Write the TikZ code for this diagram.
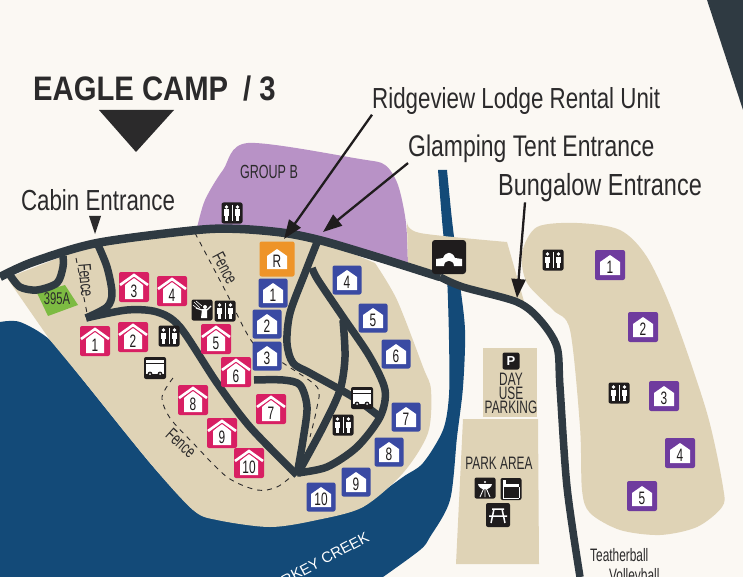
\documentclass[tikz,border=0pt]{standalone}
\usepackage{fontspec}
\setmainfont{Liberation Sans}
\newfontfamily\mapfont[FakeStretch=0.77]{Liberation Sans}
\newfontfamily\numfont[FakeStretch=0.66]{Liberation Sans}
\newfontfamily\titlefont[FakeStretch=0.86]{Liberation Sans}
\usetikzlibrary{arrows.meta}

\definecolor{paper}{HTML}{FBF8F3}
\definecolor{sand}{HTML}{DFD3B6}
\definecolor{creek}{HTML}{134A78}
\definecolor{road}{HTML}{2F3A42}
\definecolor{groupb}{HTML}{B892C6}
\definecolor{cabin}{HTML}{D81F63}
\definecolor{tent}{HTML}{3A4AA3}
\definecolor{bungalow}{HTML}{6F3B9E}
\definecolor{lodge}{HTML}{EE9428}
\definecolor{site}{HTML}{7DBB42}
\definecolor{ink}{HTML}{2B2A2B}
\definecolor{iconblack}{HTML}{1F1C1D}

\tikzset{
  mainroad/.style={draw=road, line width=8.5pt, line cap=butt, line join=round},
  sideroad/.style={draw=road, line width=7.5pt, line cap=butt, line join=round},
  fenceline/.style={draw=ink, line width=0.9pt, dash pattern=on 5pt off 5pt},
  pointer/.style={draw=iconblack, line width=2.3pt, -{Triangle[length=19pt,width=14pt]}},
  maplabel/.style={font=\mapfont\fontsize{29}{29}\selectfont, text=ink, inner sep=0pt},
  smalllabel/.style={font=\numfont\fontsize{18}{18}\selectfont, text=ink, inner sep=0pt},
  fencelabel/.style={font=\numfont\fontsize{18}{18}\selectfont, text=ink, inner sep=0pt},
  pinbox/.style={rounded corners=2pt, minimum size=#1, inner sep=0pt},
  iconbox/.style={fill=iconblack, rounded corners=2pt, inner sep=0pt},
  pinnumber/.style={font=\numfont\fontsize{18}{18}\selectfont, text=iconblack, inner sep=0pt}
}

% cabin with a roof
\newcommand{\cabinpin}[3]{
  \node[pinbox=30pt, fill=cabin] (cabin#1) at (#2,#3) {};
  \begin{scope}[shift={(#2,#3)}]
    \fill[white] (-9,-2) -- (0,-10) -- (9,-2) -- (9,12) -- (-9,12) -- cycle;
    \draw[cabin, line width=1.6pt] (-14,0) -- (0,-10) -- (14,0);
    \draw[white, line width=2.6pt] (-14,-2) -- (0,-12) -- (14,-2);
    \node[pinnumber] at (0,4) {#1};
  \end{scope}
}
% tent or bungalow
\newcommand{\tentpin}[5]{
  \node[pinbox=#5, fill=#4] (#4#1) at (#2,#3) {};
  \begin{scope}[shift={(#2,#3)}]
    \fill[white] (-10,-3) -- (0,-10) -- (10,-3) -- (10,10) -- (-10,10) -- cycle;
    \node[pinnumber] at (0,2) {#1};
  \end{scope}
}
% restroom
\newcommand{\restroom}[3]{
  \node[iconbox, minimum width=21pt, minimum height=21pt] (#1) at (#2,#3) {};
  \begin{scope}[shift={(#2,#3)}]
    \foreach \side in {-5.5,5.5} {
      \fill[white] (\side,-6) circle (1.8);
      \fill[white] (\side-2.8,-3.5) rectangle (\side+2.8,3);
      \fill[white] (\side-1.8,3) rectangle (\side+1.8,8);
    }
    \draw[white, line width=0.7pt] (0,-8) -- (0,8);
  \end{scope}
}
% tram
\newcommand{\tram}[3]{
  \node[iconbox, minimum width=22pt, minimum height=22pt] (#1) at (#2,#3) {};
  \begin{scope}[shift={(#2,#3)}]
    \fill[white] (-9,-8) rectangle (9,6);
    \draw[iconblack, line width=0.8pt] (-9,-5) -- (9,-5);
    \fill[iconblack] (-5,6) circle (2.4);
    \fill[iconblack] (5,6) circle (2.4);
    \fill[white] (-5,6) circle (1);
    \fill[white] (5,6) circle (1);
  \end{scope}
}

\begin{document}
\begin{tikzpicture}[x=1pt, y=-1pt]
\useasboundingbox (0,0) rectangle (743,577);
\clip (0,0) rectangle (743,577);
\fill[paper] (0,0) rectangle (743,577);

% corner
\fill[road] (707,0) -- (743,0) -- (743,110) -- cycle;

% creek
\fill[creek] plot[smooth] coordinates {(0,322) (20,322) (50,340) (83,380) (150,463) (193,510)}
  -- (270,527) -- (363,507) -- plot[smooth] coordinates {(367,503) (403,477) (423,463) (443,430) (449,395) (449,340) (447,277) (442,220) (438,170)}
  -- plot[smooth] coordinates {(447,170) (452,220) (459,277) (465,330) (463,387) (457,437) (450,500) (430,537) (420,550) (383,577)}
  -- (0,577) -- cycle;

% sand
\fill[groupb] plot[smooth] coordinates {(197,228) (205,200) (223,170) (248,143) (360,159) (385,165) (398,185) (406,223) (408,268)} -- (320,240) -- cycle;
\fill[sand] plot[smooth] coordinates {(407,222) (420,233) (507,242)} -- (525,305) -- (450,285) -- (408,268) -- cycle;
\fill[sand] (7,278) -- (50,340) -- plot[smooth] coordinates {(50,340) (83,380) (150,463) (193,510) (217,520) (270,527) (317,520) (363,507) (403,473) (428,433) (431,390) (423,367) (397,300) (375,263)} -- (315,238) -- (240,229) -- (190,230) -- (97,243) -- cycle;
\fill[sand] plot[smooth cycle] coordinates {(537,227) (577,223) (620,230) (647,257) (673,313) (707,413) (723,487) (722,507) (697,527) (660,535) (620,530) (590,513) (582,490) (580,427) (570,330) (553,310) (527,283) (522,253)};
\fill[sand] (483,348) rectangle (537,417);
\fill[sand] (463,419) -- (538,419) -- (539,564) -- (456,564) -- cycle;
\fill[site] (37,293) -- (65,285) -- (78,305) -- (48,316) -- cycle;

% fences
\draw[fenceline] (76,258) -- (88,318);
\draw[fenceline] plot[smooth] coordinates {(195,233) (225,290) (253,343) (283,363) (317,387) (317,407) (310,437)};
\draw[fenceline] plot[smooth] coordinates {(173,378) (162,397) (170,418) (193,443) (227,477) (257,490) (277,487) (293,475)};

% roads
\draw[sideroad] plot[smooth] coordinates {(10,275) (20,287) (37,290) (57,283) (63,267) (63,256)};
\draw[sideroad] plot[smooth] coordinates {(98,245) (107,267) (112,293) (107,307) (86,318)};
\draw[sideroad] plot[smooth] coordinates {(86,318) (127,310) (157,312) (180,327) (217,383) (250,427) (297,475)};
\draw[sideroad] plot[smooth] coordinates {(254,380) (283,380) (300,385) (307,407) (303,440) (297,475)};
\draw[sideroad] plot[smooth] coordinates {(297,475) (323,427) (340,390) (345,357) (343,320)};
\draw[sideroad] plot[smooth] coordinates {(297,473) (327,467) (357,447) (380,417) (385,390) (370,357) (343,317) (318,280) (312,268)};
\draw[sideroad] plot[smooth] coordinates {(318,240) (305,273) (290,313) (287,343) (293,363) (310,373) (353,397) (380,417)};
\draw[mainroad] plot[smooth] coordinates {(0,277) (33,262) (97,243) (197,230) (240,229) (285,233) (323,241) (380,258) (440,277)};
\draw[draw=road, line width=7.5pt] plot[smooth] coordinates {(440,277) (463,287) (517,302) (540,320) (557,347) (560,387) (567,487) (580,577)};

% cabins
\cabinpin{1}{95}{341}
\cabinpin{2}{133}{337}
\cabinpin{3}{134}{287}
\cabinpin{4}{172}{291}
\cabinpin{5}{216}{339}
\cabinpin{6}{236}{372}
\cabinpin{7}{271}{409}
\cabinpin{8}{193}{400}
\cabinpin{9}{222}{433}
\cabinpin{10}{249}{463}

% tents
\tentpin{1}{273}{293}{tent}{29pt}
\tentpin{2}{267}{324}{tent}{29pt}
\tentpin{3}{267}{356}{tent}{29pt}
\tentpin{4}{347}{280}{tent}{29pt}
\tentpin{5}{373}{318}{tent}{29pt}
\tentpin{6}{396}{354}{tent}{29pt}
\tentpin{7}{406}{417}{tent}{29pt}
\tentpin{8}{389}{452}{tent}{29pt}
\tentpin{9}{356}{482}{tent}{29pt}
\tentpin{10}{321}{497}{tent}{29pt}
\tentpin{R}{277}{259}{lodge}{35pt}

% bungalows
\tentpin{1}{610}{265}{bungalow}{30pt}
\tentpin{2}{643}{327}{bungalow}{30pt}
\tentpin{3}{664}{396}{bungalow}{30pt}
\tentpin{4}{680}{453}{bungalow}{30pt}
\tentpin{5}{642}{496}{bungalow}{30pt}

% icons
\restroom{wcgroup}{232}{213}
\restroom{wccabin}{169}{336}
\restroom{wcfence}{225}{311}
\restroom{wctent}{343}{425}
\restroom{wcbung}{553}{260}
\restroom{wcbungb}{619}{393}
\tram{tramcabin}{155}{368}
\tram{tramtent}{362}{398}

\node[iconbox, minimum size=21pt] (shower) at (202,310) {};
\begin{scope}[shift={(202,310)}]
  \fill[white] (3,-3) circle (2);
  \fill[white] (-1,8) -- (0,-1) -- (5,-1) -- (5,8) -- cycle;
  \draw[white, line width=1.2pt] (0,0) -- (-6,-2);
  \draw[white, line width=1.2pt] (5,0) -- (9,-4);
  \draw[white, line width=0.6pt] (-8,-8) -- (-2,-2) (-6,-9) -- (0,-4) (-9,-5) -- (-4,-1);
\end{scope}

\node[iconbox, minimum size=34pt, rounded corners=3pt] (bridge) at (449,257) {};
\fill[white] (436,266) -- (436,259) -- (443,258) .. controls (446,251) and (452,251) .. (455,258) -- (462,259) -- (462,266) -- (454,266) .. controls (454,259) and (444,259) .. (444,266) -- cycle;

\node[iconbox, minimum size=17pt] (parking) at (511,361) {};
\node[font=\fontsize{13}{13}\selectfont\bfseries, text=white, inner sep=0pt] (parkingp) at (511,361) {P};

\node[iconbox, minimum size=21pt] (grill) at (485,488) {};
\begin{scope}[shift={(485,488)}]
  \fill[white] (-7,-4) -- (7,-4) .. controls (6,3) and (-6,3) .. (-7,-4) -- cycle;
  \fill[white] (0,-6) circle (1.2);
  \draw[white, line width=0.9pt] (-1.5,1) -- (-5,9) (1.5,1) -- (5,9) (0,1) -- (0,9);
\end{scope}
\node[iconbox, minimum width=21pt, minimum height=22pt] (firepit) at (511,489) {};
\begin{scope}[shift={(511,489)}]
  \fill[white] (-8,-5) rectangle (8,-2);
  \fill[white] (-8,-9) rectangle (-5,-5);
  \draw[white, line width=0.8pt] (-8,-2) -- (-8,9) (8,-2) -- (8,9) (-8,9) -- (8,9);
\end{scope}
\node[iconbox, minimum size=24pt] (picnic) at (498,515) {};
\begin{scope}[shift={(498,515)}]
  \draw[white, line width=1.5pt] (-6,-6) -- (6,-6) (-9,1) -- (9,1) (-4,-6) -- (-7,8) (4,-6) -- (7,8);
\end{scope}

% labels
\node[font=\titlefont\fontsize{34}{34}\selectfont\bfseries, text=ink, anchor=west, inner sep=0pt] (camptitle) at (33,89) {EAGLE CAMP\hspace{15pt}/ 3};
\fill[ink] (99,110) -- (174,110) -- (136,152) -- cycle;
\node[maplabel] (cabinlabel) at (98,200) {Cabin Entrance};
\fill[ink] (89,216) -- (101,216) -- (95,234) -- cycle;
\node[maplabel, anchor=west] (ridgelabel) at (372,101) {Ridgeview Lodge Rental Unit};
\node[maplabel, anchor=west, font=\mapfont\fontsize{29.8}{30}\selectfont] (glamplabel) at (408,149) {Glamping Tent Entrance};
\node[maplabel, anchor=west, font=\mapfont\fontsize{30.5}{31}\selectfont] (bunglabel) at (498,188) {Bungalow Entrance};

\coordinate (ridgetip) at (284,239);
\coordinate (glamptip) at (323,232);
\coordinate (bungtip) at (517,298);
\draw[pointer] (ridgelabel.south west) -- (ridgetip);
\draw[pointer] (glamplabel.south west) -- (glamptip);
\draw[pointer] ([xshift=27pt]bunglabel.south west) -- (bungtip);

\node[font=\numfont\fontsize{19}{19}\selectfont, text=ink, inner sep=0pt] (groupblabel) at (269,172) {GROUP B};
\node[font=\numfont\fontsize{17}{17}\selectfont, text=ink, inner sep=0pt] (sitelabel) at (57,299) {395A};
\node[fencelabel, rotate=-85] (fencea) at (86,280) {Fence};
\node[fencelabel, rotate=-62] (fenceb) at (225,268) {Fence};
\node[fencelabel, rotate=-42] (fencec) at (181,443) {Fence};
\node[smalllabel, align=center, font=\numfont\fontsize{18}{14}\selectfont] (daylabel) at (511,393) {DAY\\USE\\PARKING};
\node[smalllabel] (parklabel) at (499,463) {PARK AREA};
\node[font=\fontsize{15}{15}\selectfont, text=white, inner sep=0pt, rotate=28, anchor=east] (creeklabel) at (368,536) {RKEY CREEK};
\node[font=\numfont\fontsize{18}{18}\selectfont, text=ink, inner sep=0pt, anchor=west] (tetherlabel) at (590,555) {Teatherball};
\node[font=\numfont\fontsize{18}{18}\selectfont, text=ink, inner sep=0pt, anchor=west] (volleylabel) at (609,577) {Volleyball};

\end{tikzpicture}
\end{document}
